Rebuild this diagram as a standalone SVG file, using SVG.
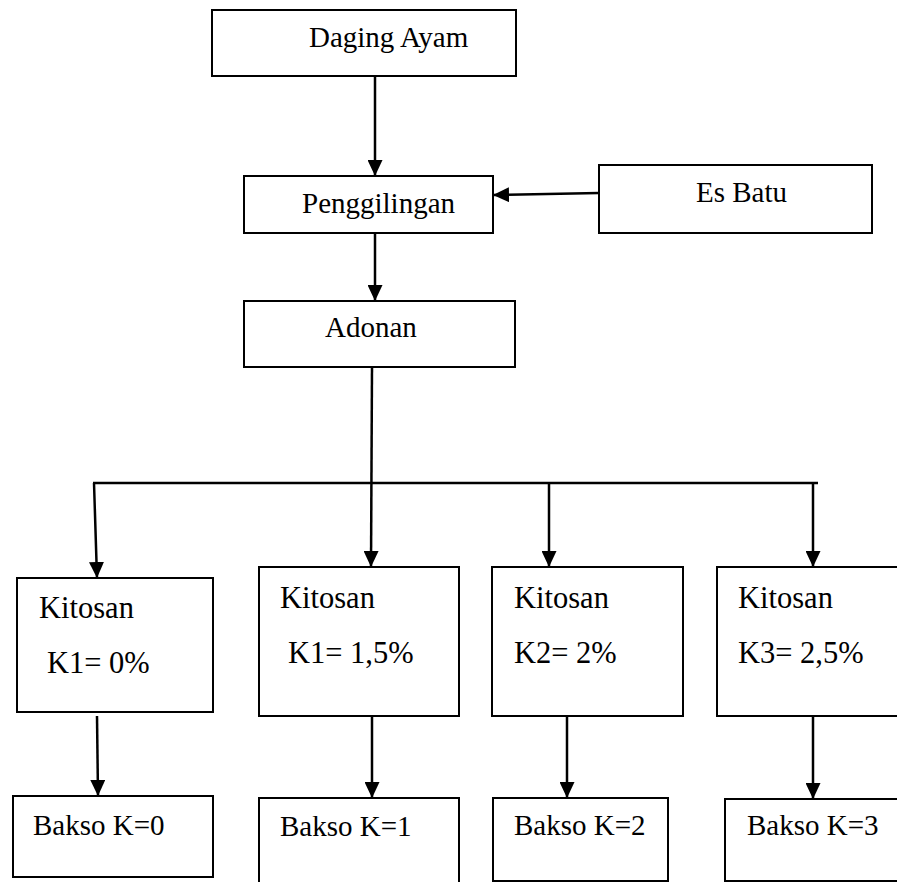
<svg xmlns="http://www.w3.org/2000/svg" width="897" height="882" viewBox="0 0 897 882">
<style>
.box{fill:#fff;stroke:#000;stroke-width:2}
text{font-family:"Liberation Serif","Times New Roman",serif;fill:#000}
.t{font-size:29px}
.k{font-size:30.5px}
.c{stroke:#000;stroke-width:2.5;fill:none}
.a{marker-end:url(#arr)}
</style>
<defs>
<marker id="arr" viewBox="0 0 16 15" refX="16" refY="7.5" markerWidth="16" markerHeight="15" markerUnits="userSpaceOnUse" orient="auto">
<path d="M0,0 L16,7.5 L0,15 z" fill="#000"/>
</marker>
</defs>
<rect width="897" height="882" fill="#fff"/>
<g id="connectors">
<line class="c a" x1="375" y1="76" x2="375" y2="176"/>
<line class="c a" x1="599" y1="193" x2="493" y2="195"/>
<line class="c a" x1="375" y1="233" x2="375" y2="301"/>
<line class="c a" x1="372" y1="367" x2="371" y2="567"/>
<line class="c" x1="93" y1="483" x2="818" y2="483"/>
<line class="c a" x1="94" y1="483" x2="97" y2="578"/>
<line class="c a" x1="549" y1="483" x2="549" y2="567"/>
<line class="c a" x1="813" y1="483" x2="813" y2="567"/>
<line class="c a" x1="97" y1="716" x2="98" y2="796"/>
<line class="c a" x1="372" y1="716" x2="372" y2="798"/>
<line class="c a" x1="567" y1="716" x2="567" y2="798"/>
<line class="c a" x1="813" y1="716" x2="813" y2="799"/>
</g>
<g id="daging-ayam">
<rect class="box" x="212" y="10" width="304" height="66"/>
<text class="t" x="309" y="47">Daging Ayam</text>
</g>
<g id="penggilingan">
<rect class="box" x="244" y="176" width="249" height="57"/>
<text class="t" x="302" y="213">Penggilingan</text>
</g>
<g id="es-batu">
<rect class="box" x="599" y="165" width="273" height="68"/>
<text class="t" x="696" y="202">Es Batu</text>
</g>
<g id="adonan">
<rect class="box" x="244" y="301" width="271" height="66"/>
<text class="t" x="325" y="337">Adonan</text>
</g>
<g id="kitosan-0">
<rect class="box" x="17" y="578" width="196" height="134"/>
<text class="k" x="39" y="618">Kitosan</text>
<text class="k" x="47" y="673">K1= 0%</text>
</g>
<g id="kitosan-1">
<rect class="box" x="259" y="567" width="200" height="149"/>
<text class="k" x="280" y="608">Kitosan</text>
<text class="k" x="288" y="663">K1= 1,5%</text>
</g>
<g id="kitosan-2">
<rect class="box" x="492" y="567" width="191" height="149"/>
<text class="k" x="514" y="608">Kitosan</text>
<text class="k" x="514" y="663">K2= 2%</text>
</g>
<g id="kitosan-3">
<rect class="box" x="717" y="567" width="200" height="149"/>
<text class="k" x="738" y="608">Kitosan</text>
<text class="k" x="738" y="663">K3= 2,5%</text>
</g>
<g id="bakso-0">
<rect class="box" x="13" y="796" width="200" height="81"/>
<text class="t" x="33" y="835">Bakso K=0</text>
</g>
<g id="bakso-1">
<path class="box" d="M259,890 L259,798 L459,798 L459,890"/>
<text class="t" x="280" y="836">Bakso K=1</text>
</g>
<g id="bakso-2">
<rect class="box" x="493" y="798" width="175" height="83"/>
<text class="t" x="514" y="835">Bakso K=2</text>
</g>
<g id="bakso-3">
<rect class="box" x="725" y="799" width="190" height="82"/>
<text class="t" x="747" y="835">Bakso K=3</text>
</g>
</svg>
